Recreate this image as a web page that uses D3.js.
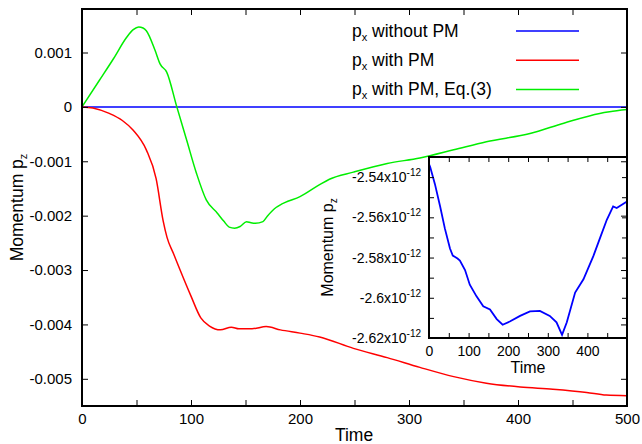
<!DOCTYPE html>
<html>
<head>
<meta charset="utf-8">
<script src="https://cdn.jsdelivr.net/npm/d3@7"></script>
<style>
  body { margin: 0; background: #fff; }
  text { font-family: "Liberation Sans", Arial, sans-serif; fill: #000; }
  .tick line { stroke: #000; stroke-width: 1; }
</style>
</head>
<body>
<div id="chart"></div>
<script>

// ---- data ----
var xTicksMain = [0, 50, 100, 150, 200, 250, 300, 350, 400, 450, 500];
var yTicksMain = [0.001, 0, -0.001, -0.002, -0.003, -0.004, -0.005];
var xTicksInset = [0, 50, 100, 150, 200, 250, 300, 350, 400, 450];
var yTicksInset = [-2.53, -2.54, -2.55, -2.56, -2.57, -2.58, -2.59, -2.60, -2.61, -2.62]; // x10^-12
var yLabelsInset = [-2.54, -2.56, -2.58, -2.60, -2.62];

var legendNames = ["without PM", "with PM", "with PM, Eq.(3)"];
var legendColors = ["#0000ff", "#ff0000", "#00ee00"];

// p_x without PM : flat zero
var bluePts = [[0, 0], [500, 0]];

// p_x with PM
var redPts = [[0, 0], [10, -0.00002], [25, -0.00012], [37, -0.00025], [47, -0.00043],
    [59, -0.00079], [68, -0.00132], [74.5, -0.0021], [78, -0.0024], [84, -0.0027],
    [90, -0.00300], [100, -0.00348], [109, -0.00388], [117, -0.00403], [127, -0.0041],
    [137, -0.00405], [144, -0.00408], [156, -0.00408], [169, -0.00404], [182, -0.0041],
    [200, -0.00416], [218, -0.00423], [249, -0.00444], [280, -0.00461], [310, -0.00479],
    [341, -0.00496], [371, -0.00508], [402, -0.00515], [432, -0.00519], [463, -0.00525],
    [481, -0.0053], [500, -0.00531]];

// p_x with PM, Eq.(3)
var greenPts = [[0, 0], [16, 0.00049], [29, 0.00089], [41, 0.00128], [47, 0.00142],
    [52, 0.00147], [56, 0.00145], [59, 0.0014], [67, 0.00104], [71.6, 0.00079],
    [77.7, 0.00064], [87, 0], [96, -0.00061], [105, -0.00122], [114, -0.00171],
    [124, -0.00195], [130, -0.0021], [135, -0.00221], [140, -0.00223], [145, -0.0022],
    [151, -0.00211], [155, -0.00213], [159, -0.00214], [166, -0.00211], [170, -0.00201],
    [178, -0.00185], [182, -0.0018], [186, -0.00176], [200, -0.00165], [218, -0.00143],
    [227, -0.00133], [249, -0.0012], [280, -0.00104], [310, -0.00094], [341, -0.00079],
    [371, -0.00064], [411, -0.00049], [442, -0.0003], [475, -0.00012], [484, -0.00009],
    [500, -0.00005]];

// inset: blue curve, in units of 1e-12
var insetPts = [[0, -2.5335], [3, -2.535], [15, -2.5435], [28, -2.5545], [40, -2.5655],
    [53, -2.5755], [60, -2.579], [66, -2.5797], [72, -2.5805], [78, -2.5815],
    [91, -2.5862], [103, -2.5935], [120, -2.5993], [137, -2.6042], [154, -2.6058],
    [171, -2.6106], [186, -2.6134], [204, -2.6118], [230, -2.609], [255, -2.6068],
    [268, -2.6066], [280, -2.6065], [305, -2.609], [322, -2.6122], [336, -2.6184],
    [348, -2.6122], [369, -2.5974], [390, -2.5908], [415, -2.5793], [432, -2.5702],
    [449, -2.5612], [465, -2.5546], [474, -2.5554], [500, -2.5521]];

// ---- layout ----
var width = 642, height = 444;
var plot = {left: 82, right: 627, top: 9, bottom: 406};
var box = {left: 429, right: 627, top: 157, bottom: 338};

var svg = d3.select("#chart")
    .append("svg")
    .attr("width", width)
    .attr("height", height);

// scale functions
var xScale = d3.scaleLinear().domain([0, 500]).range([plot.left, plot.right]);
var yScale = d3.scaleLinear().domain([-0.0055, 0.0018]).range([plot.bottom, plot.top]);
var xInset = d3.scaleLinear().domain([0, 500]).range([box.left, box.right]);
var yInset = d3.scaleLinear().domain([-2.62, -2.53]).range([box.bottom, box.top]);

var line = d3.line()
    .x(function(d) { return xScale(d[0]); })
    .y(function(d) { return yScale(d[1]); })
    .curve(d3.curveMonotoneX);

// main curves
var series = [bluePts, redPts, greenPts];
series.forEach(function(pts, i) {
    svg.append("path")
        .datum(pts)
        .attr("d", line)
        .attr("fill", "none")
        .attr("stroke", legendColors[i])
        .attr("stroke-width", 1.5);
});

// legend
legendNames.forEach(function(name, i) {
    var yb = 36.5 + i * 29.3;
    var t = svg.append("text")
        .attr("x", 352)
        .attr("y", yb)
        .style("font-size", "17.5px");
    t.append("tspan").text("p");
    t.append("tspan").attr("dy", 4).style("font-size", "11px").text("x");
    t.append("tspan").attr("dy", -4).text(" " + name);
    svg.append("line")
        .attr("x1", 516).attr("x2", 579)
        .attr("y1", yb - 5.5).attr("y2", yb - 5.5)
        .attr("stroke", legendColors[i])
        .attr("stroke-width", 1.5);
});

// ---- inset ----
svg.append("rect")
    .attr("x", box.left).attr("y", box.top)
    .attr("width", box.right - box.left).attr("height", box.bottom - box.top)
    .attr("fill", "#fff");

var insetLine = d3.line()
    .x(function(d) { return xInset(d[0]); })
    .y(function(d) { return yInset(d[1]); });

svg.append("path")
    .datum(insetPts)
    .attr("d", insetLine)
    .attr("fill", "none")
    .attr("stroke", "#0000ff")
    .attr("stroke-width", 1.8);

var fmtInsetX = function(d) { return d % 100 === 0 ? d : ""; };

svg.append("g")
    .attr("transform", "translate(0," + box.bottom + ")")
    .call(d3.axisBottom(xInset).tickValues(xTicksInset).tickSize(-5).tickPadding(8).tickFormat(fmtInsetX))
    .call(function(g) { g.select(".domain").remove(); })
    .selectAll("text").style("font-size", "14px").attr("font-family", null);
svg.append("g")
    .attr("transform", "translate(0," + box.top + ")")
    .call(d3.axisTop(xInset).tickValues(xTicksInset).tickSize(-5).tickFormat(""))
    .call(function(g) { g.select(".domain").remove(); });
svg.append("g")
    .attr("transform", "translate(" + box.left + ",0)")
    .call(d3.axisLeft(yInset).tickValues(yTicksInset).tickSize(-5).tickFormat(""))
    .call(function(g) { g.select(".domain").remove(); });
svg.append("g")
    .attr("transform", "translate(" + box.right + ",0)")
    .call(d3.axisRight(yInset).tickValues(yTicksInset).tickSize(-5).tickFormat(""))
    .call(function(g) { g.select(".domain").remove(); });

// inset y labels with x10^-12
yLabelsInset.forEach(function(v) {
    var t = svg.append("text")
        .attr("x", 421)
        .attr("y", yInset(v) + 5)
        .attr("text-anchor", "end")
        .style("font-size", "14px");
    t.append("tspan").text(String(+v.toFixed(2)) + "x10");
    t.append("tspan").attr("dy", -6).style("font-size", "10px").text("-12");
});

svg.append("rect")
    .attr("x", box.left).attr("y", box.top)
    .attr("width", box.right - box.left).attr("height", box.bottom - box.top)
    .attr("fill", "none").attr("stroke", "#000").attr("stroke-width", 2);

// inset axis labels
svg.append("text")
    .attr("x", (box.left + box.right) / 2)
    .attr("y", 373)
    .attr("text-anchor", "middle")
    .style("font-size", "16px")
    .text("Time");
var iy = svg.append("text")
    .attr("transform", "translate(333," + ((box.top + box.bottom) / 2) + ") rotate(-90)")
    .attr("text-anchor", "middle")
    .style("font-size", "16px");
iy.append("tspan").text("Momentum p");
iy.append("tspan").attr("dy", 4).style("font-size", "10px").text("z");

// ---- main axes (drawn last so mirror ticks sit on top) ----
var fmtMainX = function(d) { return d % 100 === 0 ? d : ""; };

svg.append("g")
    .attr("transform", "translate(0," + plot.bottom + ")")
    .call(d3.axisBottom(xScale).tickValues(xTicksMain).tickSize(-6).tickPadding(7).tickFormat(fmtMainX))
    .call(function(g) { g.select(".domain").remove(); })
    .selectAll("text").style("font-size", "15px").attr("font-family", null);
svg.append("g")
    .attr("transform", "translate(0," + plot.top + ")")
    .call(d3.axisTop(xScale).tickValues(xTicksMain).tickSize(-6).tickFormat(""))
    .call(function(g) { g.select(".domain").remove(); });
svg.append("g")
    .attr("transform", "translate(" + plot.left + ",0)")
    .call(d3.axisLeft(yScale).tickValues(yTicksMain).tickSize(-6).tickPadding(10)
        .tickFormat(function(d) { return String(+d.toFixed(3)); }))
    .call(function(g) { g.select(".domain").remove(); })
    .selectAll("text").style("font-size", "15px").attr("font-family", null);
svg.append("g")
    .attr("transform", "translate(" + plot.right + ",0)")
    .call(d3.axisRight(yScale).tickValues(yTicksMain).tickSize(-6).tickFormat(""))
    .call(function(g) { g.select(".domain").remove(); });

svg.append("rect")
    .attr("x", plot.left).attr("y", plot.top)
    .attr("width", plot.right - plot.left).attr("height", plot.bottom - plot.top)
    .attr("fill", "none").attr("stroke", "#000").attr("stroke-width", 2);

// main axis labels
svg.append("text")
    .attr("x", 354)
    .attr("y", 441)
    .attr("text-anchor", "middle")
    .style("font-size", "17.5px")
    .text("Time");
var my = svg.append("text")
    .attr("transform", "translate(23," + ((plot.top + plot.bottom) / 2) + ") rotate(-90)")
    .attr("text-anchor", "middle")
    .style("font-size", "17.5px");
my.append("tspan").text("Momentum p");
my.append("tspan").attr("dy", 4).style("font-size", "11px").text("z");

</script>
</body>
</html>
